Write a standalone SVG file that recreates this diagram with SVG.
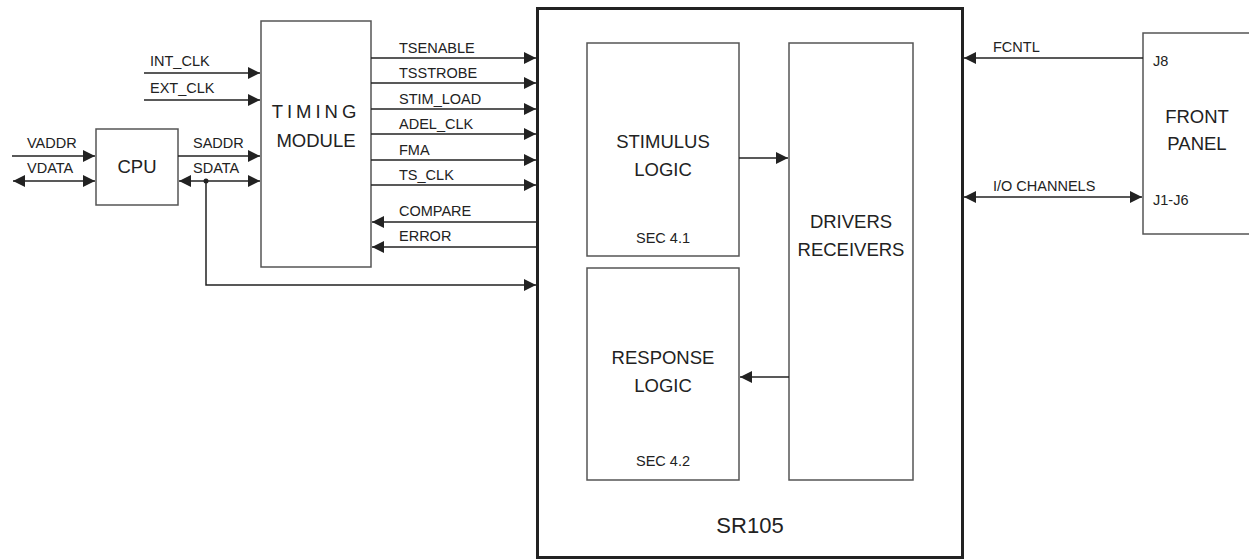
<svg xmlns="http://www.w3.org/2000/svg" width="1249" height="560" viewBox="0 0 1249 560">
<style>
text{font-family:"Liberation Sans",Arial,sans-serif;fill:#222}
.box{fill:#fff;stroke:#555;stroke-width:1.5}
.sig{font-size:14.5px}
.lbl{font-size:18.5px;text-anchor:middle}
.sec{font-size:14.5px;text-anchor:middle}
.w{stroke:#222;stroke-width:1.5;fill:none}
</style>
<defs>
<marker id="ah" markerUnits="userSpaceOnUse" markerWidth="13" markerHeight="12" refX="12" refY="6" orient="auto-start-reverse" viewBox="0 0 13 12">
<path d="M0,0 L12,6 L0,12 z" fill="#222"/>
</marker>
</defs>
<rect width="1249" height="560" fill="#fff"/>

<g id="sr105">
<rect x="537.5" y="8.5" width="425" height="549" fill="#fff" stroke="#222" stroke-width="3"/>
<text x="750" y="533" font-size="22" text-anchor="middle">SR105</text>
</g>
<g id="stimulus">
<rect class="box" x="587" y="43" width="152" height="213"/>
<text class="lbl" x="663" y="148">STIMULUS</text>
<text class="lbl" x="663" y="176">LOGIC</text>
<text class="sec" x="663" y="243">SEC 4.1</text>
</g>
<g id="response">
<rect class="box" x="587" y="268" width="152" height="212"/>
<text class="lbl" x="663" y="364">RESPONSE</text>
<text class="lbl" x="663" y="392">LOGIC</text>
<text class="sec" x="663" y="466">SEC 4.2</text>
</g>
<g id="drivers">
<rect class="box" x="789" y="43" width="124" height="437"/>
<text class="lbl" x="851" y="228">DRIVERS</text>
<text class="lbl" x="851" y="256">RECEIVERS</text>
</g>
<g id="timing">
<rect class="box" x="261" y="21" width="110" height="246"/>
<text class="lbl" x="316" y="118" letter-spacing="4">TIMING</text>
<text class="lbl" x="316" y="147">MODULE</text>
</g>
<g id="cpu">
<rect class="box" x="96" y="129" width="82" height="76"/>
<text class="lbl" x="137" y="173">CPU</text>
</g>
<g id="frontpanel">
<rect class="box" x="1143" y="33" width="120" height="201"/>
<text class="lbl" x="1197" y="123">FRONT</text>
<text class="lbl" x="1197" y="150">PANEL</text>
<text class="sig" x="1153" y="66">J8</text>
<text class="sig" x="1153" y="205">J1-J6</text>
</g>

<g id="connectors">
<path class="w" d="M144,73 H260" marker-end="url(#ah)"/>
<path class="w" d="M144,100 H260" marker-end="url(#ah)"/>
<path class="w" d="M12,156 H95" marker-end="url(#ah)"/>
<path class="w" d="M13,181 H95" marker-start="url(#ah)" marker-end="url(#ah)"/>
<path class="w" d="M178,156 H260" marker-end="url(#ah)"/>
<path class="w" d="M179,181 H260" marker-start="url(#ah)" marker-end="url(#ah)"/>
<circle cx="206" cy="181" r="2.5" fill="#222"/>
<path class="w" d="M206,181 V285 H536" marker-end="url(#ah)"/>
<path class="w" d="M371,58 H536" marker-end="url(#ah)"/>
<path class="w" d="M371,83 H536" marker-end="url(#ah)"/>
<path class="w" d="M371,109 H536" marker-end="url(#ah)"/>
<path class="w" d="M371,134 H536" marker-end="url(#ah)"/>
<path class="w" d="M371,160 H536" marker-end="url(#ah)"/>
<path class="w" d="M371,185 H536" marker-end="url(#ah)"/>
<path class="w" d="M536,222 H372" marker-end="url(#ah)"/>
<path class="w" d="M536,247 H372" marker-end="url(#ah)"/>
<path class="w" d="M739,158 H788" marker-end="url(#ah)"/>
<path class="w" d="M789,377 H740" marker-end="url(#ah)"/>
<path class="w" d="M1143,58 H964" marker-end="url(#ah)"/>
<path class="w" d="M964,197 H1142" marker-start="url(#ah)" marker-end="url(#ah)"/>
<text class="sig" x="150" y="66">INT_CLK</text>
<text class="sig" x="150" y="93">EXT_CLK</text>
<text class="sig" x="27" y="148">VADDR</text>
<text class="sig" x="27" y="173">VDATA</text>
<text class="sig" x="193" y="148">SADDR</text>
<text class="sig" x="193" y="173">SDATA</text>
<text class="sig" x="399" y="53">TSENABLE</text>
<text class="sig" x="399" y="78">TSSTROBE</text>
<text class="sig" x="399" y="104">STIM_LOAD</text>
<text class="sig" x="399" y="129">ADEL_CLK</text>
<text class="sig" x="399" y="155">FMA</text>
<text class="sig" x="399" y="180">TS_CLK</text>
<text class="sig" x="399" y="216">COMPARE</text>
<text class="sig" x="399" y="241">ERROR</text>
<text class="sig" x="993" y="52">FCNTL</text>
<text class="sig" x="993" y="191">I/O CHANNELS</text>
</g>
</svg>
